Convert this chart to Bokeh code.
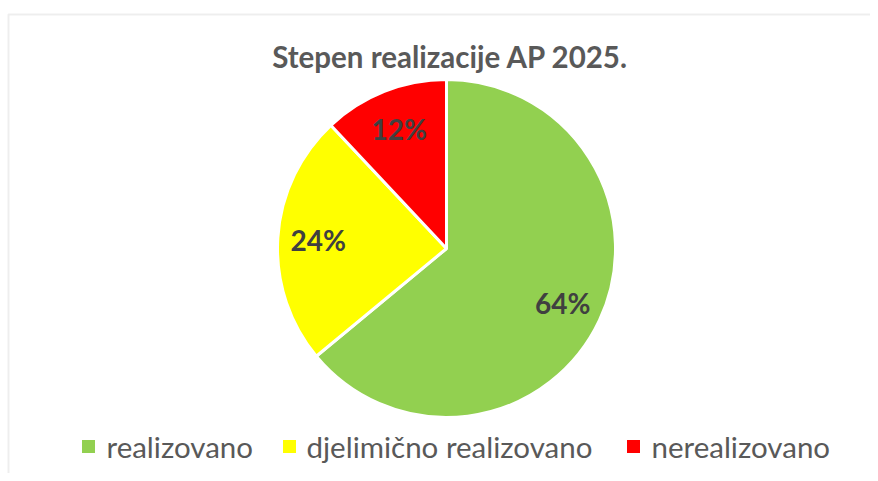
import math
from bokeh.plotting import figure
from bokeh.models import Range1d, ColumnDataSource, BoxAnnotation
from bokeh.core.properties import value
from bokeh.embed import file_html
from bokeh.resources import INLINE

# ---- data ----
categories = ["realizovano", "djelimično realizovano", "nerealizovano"]
shares = [64, 24, 12]
colors = ["#92d050", "#ffff00", "#ff0000"]
title_text = "Stepen realizacije AP 2025."

# ---- layout (figure pixel space, y up) ----
W, H = 870, 473
cx, cy, R = 446, 473 - 248, 169
label_r = 0.76 * R
FONT = "Lato"

p = figure(width=W, height=H, output_backend="svg", toolbar_location=None,
           x_range=Range1d(0, W), y_range=Range1d(0, H),
           min_border=0, outline_line_color=None)
p.axis.visible = False
p.grid.visible = False
p.background_fill_color = "white"
p.border_fill_color = "white"

# chart frame border
p.add_layout(BoxAnnotation(left=8, right=W + 20, top=459, bottom=-20,
                           fill_alpha=0, line_color="#c8c8c8", line_width=2))

total = sum(shares)
starts, ends, lx, ly, labels = [], [], [], [], []
acc = 0.0
for s in shares:
    a0 = math.pi / 2 - 2 * math.pi * acc / total
    a1 = math.pi / 2 - 2 * math.pi * (acc + s) / total
    starts.append(a0)
    ends.append(a1)
    mid = (a0 + a1) / 2
    lx.append(cx + label_r * math.cos(mid))
    ly.append(cy + label_r * math.sin(mid))
    labels.append(f"{round(100 * s / total)}%")
    acc += s

src = ColumnDataSource(dict(start=starts, end=ends, color=colors, lx=lx, ly=ly,
                            label=labels, cat=categories))
p.wedge(x=cx, y=cy, radius=R, start_angle="start", end_angle="end",
        direction="clock", fill_color="color", line_color="white",
        line_width=3, source=src)

p.text(x="lx", y="ly", text="label", source=src, text_align="center",
       text_baseline="middle", text_font=value(FONT), text_font_style="bold",
       text_font_size="28px", text_color="#404040")

# title
p.text(x=[450], y=[473 - 56], text=[title_text], text_align="center",
       text_baseline="middle", text_font=value(FONT), text_font_style="bold",
       text_font_size="29.5px", text_color="#595959")

# legend
sq_x = [88, 289, 633]
tx_x = [106, 306, 651]
p.scatter(x=sq_x, y=[473 - 446] * 3, marker="square", size=13,
          fill_color=colors, line_color=None)
p.text(x=tx_x, y=[473 - 446] * 3, text=categories, text_align="left",
       text_baseline="middle", text_font=value(FONT),
       text_font_size="29.5px", text_color="#595959")

open("out.html", "w").write(file_html(p, INLINE))
